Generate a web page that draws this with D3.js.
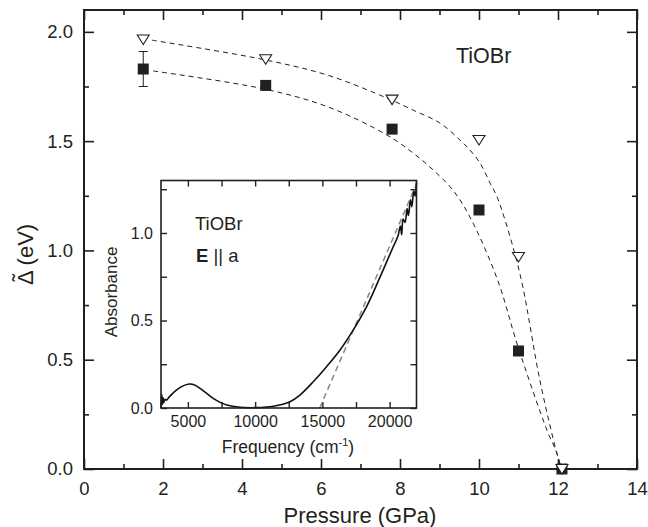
<!DOCTYPE html>
<html><head><meta charset="utf-8">
<script src="https://cdn.jsdelivr.net/npm/d3@7"></script>
<style>
body{margin:0;background:#fff;}
text{font-family:"Liberation Sans",Arial,Helvetica,sans-serif;fill:#231f20;}
</style></head>
<body><svg id="c" width="648" height="527"></svg>
<script>
// ---- main plot data ----
const pressure = [1.5, 4.6, 7.8, 10.0, 11.0, 12.1];
const gapSquares = [1.83, 1.755, 1.555, 1.185, 0.54, 0.0];
const gapTriangles = [1.965, 1.875, 1.69, 1.505, 0.97, 0.0];
const errorFirst = 0.08;
// dashed fit curves
const fitUpperP = [1.72, 4.61, 6.2, 7.67, 8.33, 9.01, 9.52, 9.77, 10.03, 10.28, 10.46, 10.86, 11.11, 11.54, 11.97, 12.08];
const fitUpperD = [1.962, 1.871, 1.80, 1.697, 1.642, 1.583, 1.505, 1.459, 1.399, 1.308, 1.244, 1.016, 0.833, 0.407, 0.073, 0.01];
const fitLowerP = [1.75, 4.61, 6.2, 7.67, 8.33, 8.84, 9.34, 9.77, 10.46, 10.99, 11.72, 11.97, 12.05];
const fitLowerD = [1.821, 1.737, 1.655, 1.528, 1.446, 1.368, 1.276, 1.153, 0.87, 0.558, 0.178, 0.073, 0.014];
const xMajor = [0, 2, 4, 6, 8, 10, 12, 14];
const xMinor = [1, 3, 5, 7, 9, 11, 13];
const yMajor = [0.0, 0.5, 1.0, 1.5, 2.0];
const yMinor = [0.25, 0.75, 1.25, 1.75];

// ---- inset data ----
const freq = [3000, 3050, 3100, 3150, 3200, 3300, 3400, 3669, 4166, 4600, 5100, 5500, 5900, 6400, 6886, 7400, 7880, 8870, 10110, 11350, 12590, 13330, 14320, 15310, 16300, 17290, 18280, 19270, 20260, 20500, 20650, 20800, 20900, 21000, 21150, 21300, 21400, 21550, 21650, 21800, 21900, 22000];
const absorb = [0.0, 0.08, 0.02, 0.06, 0.03, 0.05, 0.045, 0.068, 0.103, 0.125, 0.137, 0.132, 0.112, 0.083, 0.055, 0.032, 0.017, 0.004, 0.002, 0.01, 0.036, 0.074, 0.15, 0.236, 0.33, 0.445, 0.578, 0.745, 0.92, 0.96, 0.99, 1.04, 0.99, 1.08, 1.06, 1.14, 1.10, 1.19, 1.15, 1.24, 1.21, 1.29];
const tangentF = [14800, 22000];
const tangentA = [0.0, 1.28];
const ixMajor = [5000, 10000, 15000, 20000];
const ixMinor = [7500, 12500, 17500];
const iyMajor = [0.0, 0.5, 1.0];
const iyMinor = [0.25, 0.75, 1.25];

const svg = d3.select("#c");
const ink = "#231f20";

// ---- main scales ----
const x = d3.scaleLinear().domain([0, 14]).range([84, 637]);
const y = d3.scaleLinear().domain([0, 2.1]).range([469, 10]);
const H0 = 469, H1 = 10, L0 = 84, R0 = 637;

function styleAxis(g, fs) {
  g.select(".domain").remove();
  g.selectAll(".tick line").attr("stroke", ink).attr("stroke-width", 1.6);
  g.selectAll("text").style("font-size", fs + "px").attr("fill", ink);
}
// bottom
svg.append("g").attr("transform", `translate(0,${H0})`)
  .call(d3.axisBottom(x).tickValues(xMajor).tickFormat(d3.format("d")).tickSize(-10).tickPadding(13))
  .call(g => styleAxis(g, 18.5));
svg.append("g").attr("transform", `translate(0,${H0})`)
  .call(d3.axisBottom(x).tickValues(xMinor).tickFormat("").tickSize(-5))
  .call(g => styleAxis(g, 18));
// top
svg.append("g").attr("transform", `translate(0,${H1})`)
  .call(d3.axisTop(x).tickValues(xMajor).tickFormat("").tickSize(-10))
  .call(g => styleAxis(g, 18));
svg.append("g").attr("transform", `translate(0,${H1})`)
  .call(d3.axisTop(x).tickValues(xMinor).tickFormat("").tickSize(-5))
  .call(g => styleAxis(g, 18));
// left
svg.append("g").attr("transform", `translate(${L0},0)`)
  .call(d3.axisLeft(y).tickValues(yMajor).tickFormat(d3.format(".1f")).tickSize(-10).tickPadding(11))
  .call(g => styleAxis(g, 18.5));
svg.append("g").attr("transform", `translate(${L0},0)`)
  .call(d3.axisLeft(y).tickValues(yMinor).tickFormat("").tickSize(-5))
  .call(g => styleAxis(g, 18));
// right
svg.append("g").attr("transform", `translate(${R0},0)`)
  .call(d3.axisRight(y).tickValues(yMajor).tickFormat("").tickSize(-10))
  .call(g => styleAxis(g, 18));
svg.append("g").attr("transform", `translate(${R0},0)`)
  .call(d3.axisRight(y).tickValues(yMinor).tickFormat("").tickSize(-5))
  .call(g => styleAxis(g, 18));
svg.append("rect").attr("x", L0).attr("y", H1).attr("width", R0 - L0).attr("height", H0 - H1)
  .attr("fill", "none").attr("stroke", ink).attr("stroke-width", 2);

// dashed fits
const line = d3.line().x(d => x(d[0])).y(d => y(d[1])).curve(d3.curveCatmullRom.alpha(0.5));
svg.append("path").datum(d3.zip(fitUpperP, fitUpperD)).attr("d", line)
  .attr("fill", "none").attr("stroke", ink).attr("stroke-width", 1).attr("stroke-dasharray", "5,4");
svg.append("path").datum(d3.zip(fitLowerP, fitLowerD)).attr("d", line)
  .attr("fill", "none").attr("stroke", ink).attr("stroke-width", 1).attr("stroke-dasharray", "5,4");

// error bar on first square
const ex = x(pressure[0]);
const eg = svg.append("g").attr("stroke", ink).attr("stroke-width", 1);
eg.append("line").attr("x1", ex).attr("x2", ex).attr("y1", y(gapSquares[0] + errorFirst)).attr("y2", y(gapSquares[0] - errorFirst));
eg.append("line").attr("x1", ex - 4.5).attr("x2", ex + 4.5).attr("y1", y(gapSquares[0] + errorFirst)).attr("y2", y(gapSquares[0] + errorFirst));
eg.append("line").attr("x1", ex - 4.5).attr("x2", ex + 4.5).attr("y1", y(gapSquares[0] - errorFirst)).attr("y2", y(gapSquares[0] - errorFirst));

// squares
svg.append("g").selectAll("rect").data(d3.zip(pressure, gapSquares)).join("rect")
  .attr("x", d => x(d[0]) - 5.5).attr("y", d => y(d[1]) - 5.5).attr("width", 11).attr("height", 11)
  .attr("fill", ink);
// triangles (open, pointing down)
svg.append("g").selectAll("path").data(d3.zip(pressure, gapTriangles)).join("path")
  .attr("transform", d => `translate(${x(d[0])},${y(d[1])})`)
  .attr("d", "M-6,-4.5L6,-4.5L0,5Z")
  .attr("fill", "#fff").attr("stroke", ink).attr("stroke-width", 1.1);

// labels
svg.append("text").attr("x", 360).attr("y", 523).attr("text-anchor", "middle")
  .style("font-size", "22px").text("Pressure (GPa)");
const yl = svg.append("g").attr("transform", "translate(33,252) rotate(-90)");
yl.append("text").attr("x", -33).attr("y", 0).style("font-size", "22px").text("\u0394 (eV)");
yl.append("text").attr("x", -25.5).attr("y", -5).attr("text-anchor", "middle")
  .style("font-size", "22px").text("\u02DC");
svg.append("text").attr("x", 456).attr("y", 63).style("font-size", "21.5px").text("TiOBr");

// ---- inset ----
const fx = d3.scaleLinear().domain([3000, 22000]).range([161, 416.5]);
const fy = d3.scaleLinear().domain([0, 1.3]).range([408, 180.5]);
const iL = 161, iR = 416.5, iB = 408, iT = 180.5;
svg.append("rect").attr("x", iL).attr("y", iT).attr("width", iR - iL).attr("height", iB - iT).attr("fill", "#fff");

function styleI(g) {
  g.select(".domain").remove();
  g.selectAll(".tick line").attr("stroke", ink).attr("stroke-width", 1.4);
  g.selectAll("text").style("font-size", "16px").attr("fill", ink);
}
const ixAll = ixMajor.concat(ixMinor);
const iyAll = iyMajor.concat(iyMinor);
svg.append("g").attr("transform", `translate(0,${iB})`)
  .call(d3.axisBottom(fx).tickValues(ixMajor).tickFormat(d3.format("d")).tickSize(-6).tickPadding(8)).call(styleI);
svg.append("g").attr("transform", `translate(0,${iB})`)
  .call(d3.axisBottom(fx).tickValues(ixMinor).tickFormat("").tickSize(-6)).call(styleI);
svg.append("g").attr("transform", `translate(0,${iT})`)
  .call(d3.axisTop(fx).tickValues(ixAll).tickFormat("").tickSize(-6)).call(styleI);
svg.append("g").attr("transform", `translate(${iL},0)`)
  .call(d3.axisLeft(fy).tickValues(iyMajor).tickFormat(d3.format(".1f")).tickSize(-6).tickPadding(8)).call(styleI);
svg.append("g").attr("transform", `translate(${iL},0)`)
  .call(d3.axisLeft(fy).tickValues(iyMinor).tickFormat("").tickSize(-6)).call(styleI);
svg.append("g").attr("transform", `translate(${iR},0)`)
  .call(d3.axisRight(fy).tickValues(iyAll).tickFormat("").tickSize(-6)).call(styleI);

const iline = d3.line().x(d => fx(d[0])).y(d => fy(d[1]));
svg.append("path").datum(d3.zip(tangentF, tangentA)).attr("d", iline)
  .attr("fill", "none").attr("stroke", "#888").attr("stroke-width", 1.5).attr("stroke-dasharray", "6,4");
svg.append("path").datum(d3.zip(freq, absorb)).attr("d", iline.curve(d3.curveCatmullRom.alpha(0.5)))
  .attr("fill", "none").attr("stroke", "#111").attr("stroke-width", 1.6);

svg.append("rect").attr("x", iL).attr("y", iT).attr("width", iR - iL).attr("height", iB - iT)
  .attr("fill", "none").attr("stroke", ink).attr("stroke-width", 1.6);

svg.append("text").attr("x", 195).attr("y", 230).style("font-size", "18.5px").text("TiOBr");
const ea = svg.append("text").attr("x", 196).attr("y", 262).style("font-size", "18.5px");
ea.append("tspan").style("font-weight", "bold").text("E");
ea.append("tspan").text(" || a");

const fl = svg.append("text").attr("x", 288).attr("y", 453).attr("text-anchor", "middle").style("font-size", "17.5px");
fl.append("tspan").text("Frequency (cm");
fl.append("tspan").attr("dy", -7).style("font-size", "11px").text("-1");
fl.append("tspan").attr("dy", 7).text(")");
svg.append("text").attr("transform", "translate(117,292) rotate(-90)").attr("text-anchor", "middle")
  .style("font-size", "17px").text("Absorbance");
</script></body></html>
